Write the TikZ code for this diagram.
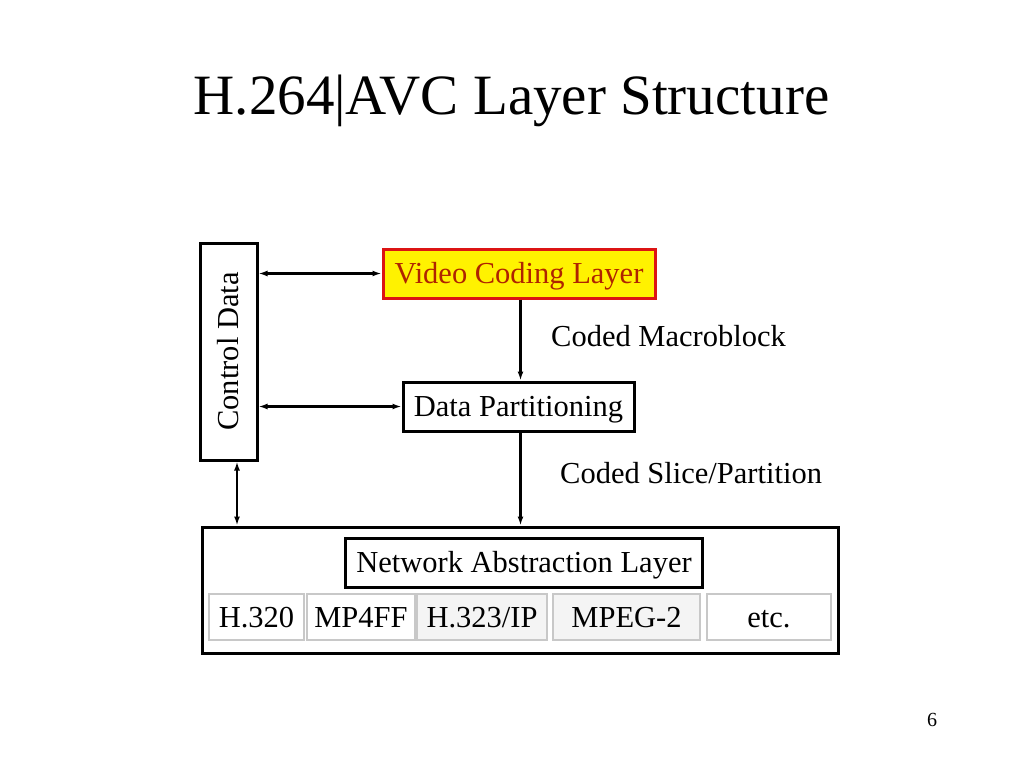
\documentclass[tikz,border=0pt]{standalone}
\usepackage{fontspec}
\setmainfont{Liberation Serif}
\usetikzlibrary{arrows.meta}
\definecolor{vclred}{RGB}{220,20,20}
\definecolor{vcltext}{RGB}{175,35,0}
\definecolor{cellgray}{RGB}{200,200,200}
\definecolor{cellfill}{RGB}{244,244,244}
\begin{document}
\begin{tikzpicture}[x=1pt,y=-1pt,
  box/.style={draw=black,line width=3pt,fill=white,rectangle,inner sep=0pt,text height=20pt,text depth=0pt,font=\fontsize{30.5}{36}\selectfont},
  cell/.style={draw=cellgray,line width=2.6pt,rectangle,inner sep=0pt,minimum height=46pt,text height=20pt,text depth=0pt,font=\fontsize{30.5}{36}\selectfont},
  lab/.style={anchor=west,inner sep=0pt,text height=20pt,text depth=0pt,font=\fontsize{30.5}{36}\selectfont},
  conn/.style={line width=2.2pt,{Latex[length=9pt,width=6pt]}-{Latex[length=9pt,width=6pt]}},
  conn1/.style={line width=2.2pt,-{Latex[length=9pt,width=6pt]}}]
\useasboundingbox[fill=white] (0,0) rectangle (1024,768);
\node[inner sep=0pt,font=\fontsize{57}{60}\selectfont] (title) at (511.5,101) {H.264|AVC Layer Structure};
\node[box,minimum width=57pt,minimum height=217pt] (CD) at (228.5,351.5) {};
\node[rotate=90,inner sep=0pt,text height=20pt,text depth=0pt,font=\fontsize{30.5}{36}\selectfont] (CDt) at (CD.center) {Control Data};
\node[box,draw=vclred,fill=yellow,text=vcltext,minimum width=272pt,minimum height=49pt] (VCL) at (519,273.5) {Video Coding Layer};
\node[box,minimum width=231pt,minimum height=49pt] (DP) at (518.5,406.5) {Data Partitioning};
\node[box,minimum width=636pt,minimum height=126pt] (NAL) at (520,590) {};
\node[box,minimum width=357pt,minimum height=49pt] (NALi) at (524,562.5) {Network Abstraction Layer};
\node[cell,fill=white,minimum width=95pt] (c1) at (256.5,617) {H.320};
\node[cell,fill=white,minimum width=108pt] (c2) at (361,617) {MP4FF};
\node[cell,fill=cellfill,minimum width=130pt] (c3) at (482,617) {H.323/IP};
\node[cell,fill=cellfill,minimum width=147pt] (c4) at (626.5,617) {MPEG-2};
\node[cell,fill=white,minimum width=124pt] (c5) at (769,617) {etc.};
\node[lab] (l1) at (551,336) {Coded Macroblock};
\node[lab] (l2) at (560,473) {Coded Slice/Partition};
\node[inner sep=0pt,font=\fontsize{20}{24}\selectfont] (pg) at (932,720) {6};
\draw[conn] (CD.east |- VCL.west) -- (VCL.west);
\draw[conn] (CD.east |- DP.west) -- (DP.west);
\coordinate (vs) at ([xshift=1.5pt]VCL.south);
\draw[conn1] (vs) -- (vs |- DP.north);
\coordinate (ds) at ([xshift=2pt]DP.south);
\draw[conn1] (ds) -- (ds |- NAL.north);
\coordinate (cdb) at ([xshift=8.5pt]CD.south);
\draw[conn] (cdb) -- (cdb |- NAL.north);
\end{tikzpicture}
\end{document}
